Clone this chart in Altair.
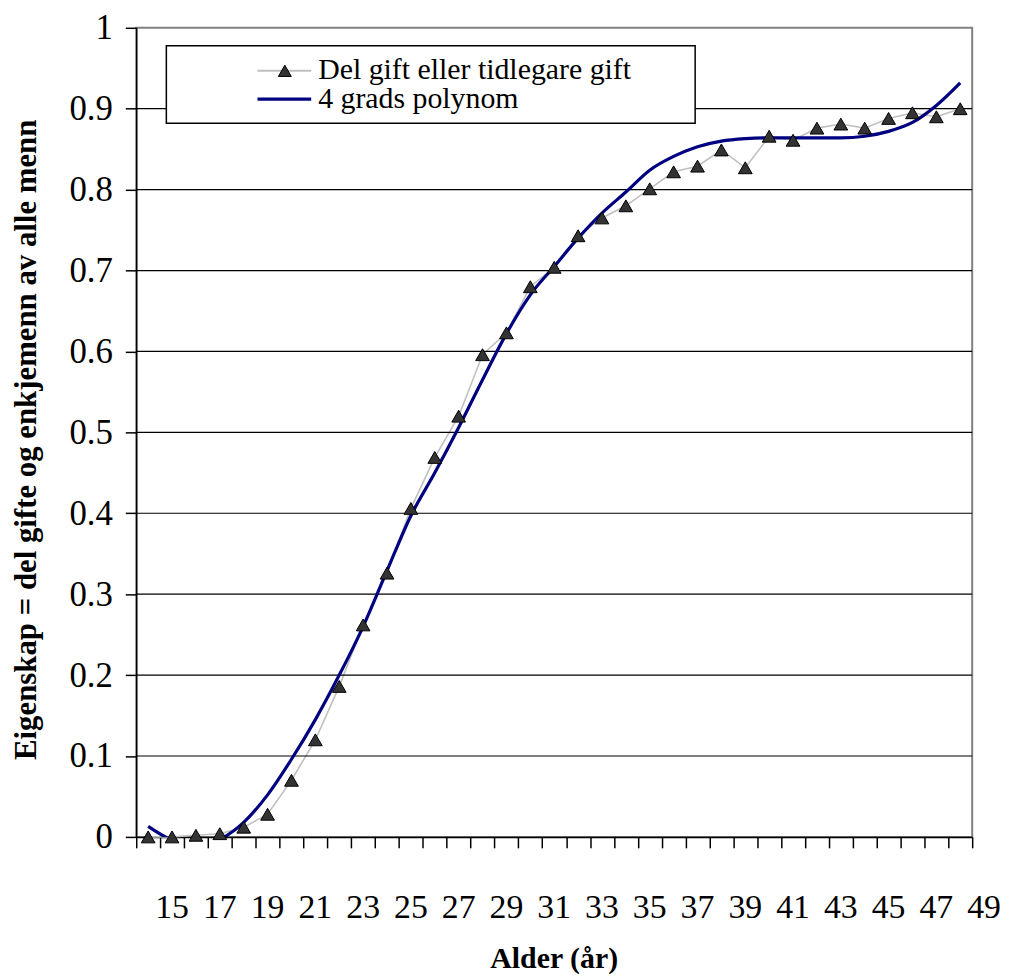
import altair as alt
import pandas as pd

# ---- data ----
ages = list(range(14, 49))
share = [0.000, 0.000, 0.002, 0.004, 0.012, 0.028, 0.070, 0.120, 0.186, 0.262,
         0.326, 0.406, 0.469, 0.520, 0.596, 0.623, 0.680, 0.704, 0.743, 0.765,
         0.780, 0.801, 0.822, 0.829, 0.849, 0.827, 0.866, 0.861, 0.876, 0.881,
         0.876, 0.888, 0.895, 0.890, 0.900]
trend = [0.013, -0.004, -0.010, -0.003, 0.018, 0.052, 0.096, 0.145, 0.200, 0.260,
         0.329, 0.397, 0.450, 0.506, 0.565, 0.622, 0.670, 0.705, 0.740, 0.771,
         0.797, 0.824, 0.841, 0.853, 0.860, 0.863, 0.864, 0.864, 0.864, 0.864,
         0.866, 0.872, 0.883, 0.904, 0.932]
x_tick_labels = list(range(15, 50, 2))
y_tick_values = [0, 0.1, 0.2, 0.3, 0.4, 0.5, 0.6, 0.7, 0.8, 0.9, 1.0]
grid_values = [0.1, 0.2, 0.3, 0.4, 0.5, 0.6, 0.7, 0.8, 0.9]
legend_labels = ["Del gift eller tidlegare gift", "4 grads polynom"]
x_title = "Alder (år)"
y_title = "Eigenskap = del gifte og enkjemenn av alle menn"

FONT = "Liberation Serif"
W, H = 841, 814

xs = alt.Scale(domain=[13.5, 48.5], nice=False, zero=False)
ys = alt.Scale(domain=[0, 1], nice=False, zero=False)

df = pd.DataFrame({"age": ages, "share": share, "trend": trend})
one = pd.DataFrame({"k": [0]})

x_axis = alt.Axis(
    values=[13.5 + i for i in range(36)], labels=False, grid=False,
    tickSize=11, tickWidth=1.5, tickColor="black",
    domainColor="black", domainWidth=1.5,
    title=x_title, titleFont=FONT, titleFontSize=30, titleFontWeight="bold",
    titleColor="black", titleX=420, titleY=131, titleBaseline="alphabetic",
    titleAlign="center", titleAnchor="middle",
)
y_axis = alt.Axis(
    values=y_tick_values, format=".1~f", grid=False,
    tickSize=11, tickWidth=1.5, tickColor="black",
    domainColor="black", domainWidth=1.5,
    labelFont=FONT, labelFontSize=35, labelColor="black", labelPadding=13,
    labelFlush=False, labelOverlap=False, labelBound=False,
    title=y_title, titleFont=FONT, titleFontSize=31, titleFontWeight="bold",
    titleColor="black", titleAngle=270, titleX=-101, titleY=414,
    titleBaseline="alphabetic", titleAlign="center",
)

grid = alt.Chart(pd.DataFrame({"v": grid_values})).mark_rule(
    color="black", strokeWidth=1.2
).encode(y=alt.Y("v:Q", scale=ys, axis=y_axis))

# legend (box, symbols, labels)
leg_box = alt.Chart(one).mark_rect(fill="white", stroke="black", strokeWidth=1.5).encode(
    x=alt.value(30.3), x2=alt.value(562.3), y=alt.value(18), y2=alt.value(96))
leg_line1 = alt.Chart(one).mark_rule(color="#c0c0c0", strokeWidth=2).encode(
    x=alt.value(122), x2=alt.value(176), y=alt.value(43.3))
leg_tri = alt.Chart(one).mark_point(
    shape="triangle-up", filled=True, fill="#333333", stroke="black",
    strokeWidth=1, size=170, opacity=1).encode(x=alt.value(149.5), y=alt.value(43.3))
leg_line2 = alt.Chart(one).mark_rule(color="#000080", strokeWidth=3.2).encode(
    x=alt.value(122), x2=alt.value(176), y=alt.value(71.7))
leg_txt1 = alt.Chart(one).mark_text(
    align="left", baseline="alphabetic", font=FONT, fontSize=30, color="black").encode(
    x=alt.value(183), y=alt.value(52), text=alt.value(legend_labels[0]))
leg_txt2 = alt.Chart(one).mark_text(
    align="left", baseline="alphabetic", font=FONT, fontSize=30, color="black").encode(
    x=alt.value(183), y=alt.value(81), text=alt.value(legend_labels[1]))

base = alt.Chart(df)
gray_line = base.mark_line(color="#c0c0c0", strokeWidth=1.6).encode(
    x=alt.X("age:Q", scale=xs, axis=x_axis),
    y=alt.Y("share:Q", scale=ys, axis=y_axis),
)
trend_line = base.mark_line(color="#000080", strokeWidth=3.2, clip=True,
                            interpolate="monotone").encode(
    x=alt.X("age:Q", scale=xs, axis=x_axis),
    y=alt.Y("trend:Q", scale=ys, axis=y_axis),
)
points = base.mark_point(shape="triangle-up", filled=True, fill="#333333",
                         stroke="black", strokeWidth=1, size=190, opacity=1).encode(
    x=alt.X("age:Q", scale=xs, axis=x_axis),
    y=alt.Y("share:Q", scale=ys, axis=y_axis),
)

x_labels = alt.Chart(pd.DataFrame({"lab": x_tick_labels})).mark_text(
    align="center", baseline="alphabetic", font=FONT, fontSize=34, color="black"
).encode(
    x=alt.X("lab:Q", scale=xs, axis=x_axis),
    y=alt.value(896),
    text=alt.Text("lab:Q", format="d"),
)

chart = alt.layer(
    gray_line, grid, leg_box, leg_line1, leg_tri, leg_line2, leg_txt1, leg_txt2,
    trend_line, points, x_labels,
).properties(
    width=W, height=H,
    background="white",
    autosize=alt.AutoSizeParams(type="none"),
    padding={"left": 129, "top": 17, "right": 30, "bottom": 135},
).configure_view(
    stroke="#808080", strokeWidth=2
)

chart.save("out.html", embed_options={"renderer": "svg", "actions": False})
